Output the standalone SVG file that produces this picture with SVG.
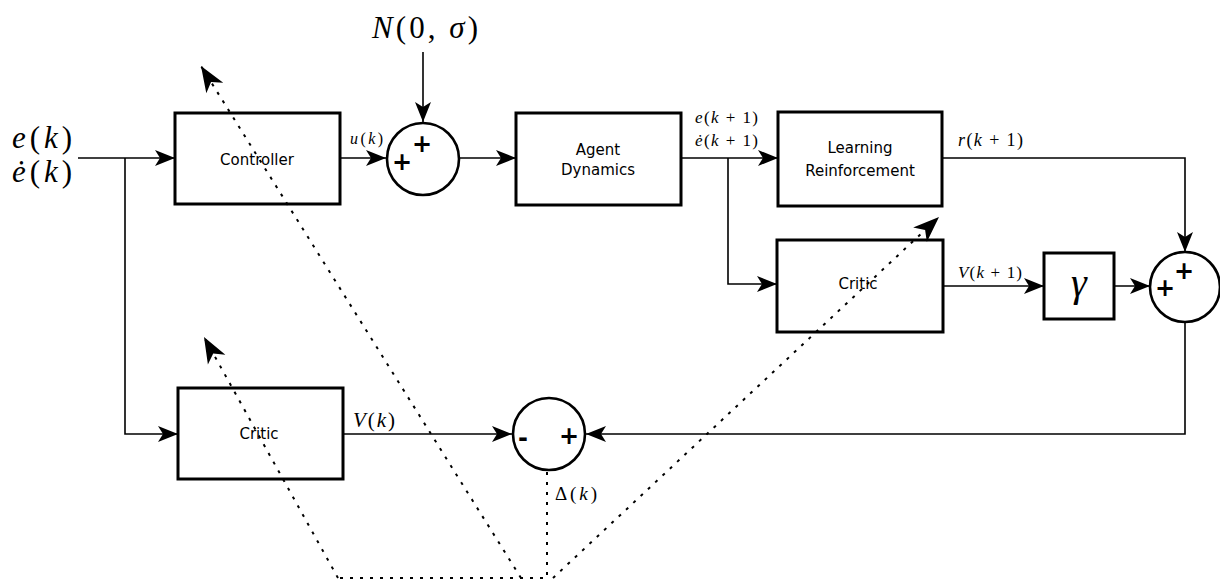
<svg xmlns="http://www.w3.org/2000/svg" width="1220" height="581" viewBox="0 0 1220 581">
  <style>
    .box { fill: #fff; stroke: #000; stroke-width: 3; }
    .sum { fill: #fff; stroke: #000; stroke-width: 2.6; }
    .wire { fill: none; stroke: #000; stroke-width: 1.6; }
    .dot { fill: none; stroke: #000; stroke-width: 2; stroke-dasharray: 3 7; }
    .lbl { font-family: "DejaVu Sans", "Liberation Sans", sans-serif; font-size: 15px; text-anchor: middle; fill: #000; }
    .math { font-family: "Liberation Serif", serif; font-weight: normal; fill: #000; }
    .it { font-style: italic; }
    .sign { font-family: "DejaVu Sans", "Liberation Sans", sans-serif; font-weight: bold; font-size: 24px; text-anchor: middle; fill: #000; }
  </style>
  <defs>
    <marker id="arrow" markerUnits="userSpaceOnUse" markerWidth="24" markerHeight="20" viewBox="-22 -10 24 20" refX="0" refY="0" orient="auto">
      <path d="M0,0 L-20,-8 L-15,0 L-20,8 Z" fill="#000"/>
    </marker>
    <marker id="arrow-big" markerUnits="userSpaceOnUse" markerWidth="30" markerHeight="24" viewBox="-28 -12 30 24" refX="0" refY="0" orient="auto">
      <path d="M0,0 L-26,-10 L-19,0 L-26,10 Z" fill="#000"/>
    </marker>
  </defs>

  <rect width="1220" height="581" fill="#fff"/>

  <g id="input-label">
    <text class="math" x="12" y="148" font-size="31" textLength="60" lengthAdjust="spacing"><tspan class="it">e</tspan>(<tspan class="it">k</tspan>)</text>
    <text class="math" x="12" y="182" font-size="31" textLength="60" lengthAdjust="spacing"><tspan class="it">ė</tspan>(<tspan class="it">k</tspan>)</text>
  </g>

  <g id="noise-label">
    <text class="math" x="372" y="38" font-size="31" textLength="106" lengthAdjust="spacing"><tspan class="it">N</tspan>(0, <tspan class="it">σ</tspan>)</text>
  </g>

  <g id="controller">
    <rect class="box" x="175" y="113" width="165" height="91"/>
    <text class="lbl" x="257" y="165">Controller</text>
  </g>

  <g id="sum-noise">
    <circle class="sum" cx="423" cy="159" r="36"/>
    <text class="sign" x="402" y="170">+</text>
    <text class="sign" x="422" y="152">+</text>
    <text class="math" x="350" y="144" font-size="16" textLength="33" lengthAdjust="spacing"><tspan class="it">u</tspan>(<tspan class="it">k</tspan>)</text>
  </g>

  <g id="agent-dynamics">
    <rect class="box" x="516" y="113" width="165" height="92"/>
    <text class="lbl" x="598" y="155">Agent</text>
    <text class="lbl" x="598" y="175">Dynamics</text>
    <text class="math" x="695" y="123" font-size="17" textLength="63" lengthAdjust="spacing"><tspan class="it">e</tspan>(<tspan class="it">k</tspan> + 1)</text>
    <text class="math" x="695" y="146" font-size="17" textLength="63" lengthAdjust="spacing"><tspan class="it">ė</tspan>(<tspan class="it">k</tspan> + 1)</text>
  </g>

  <g id="learning-reinforcement">
    <rect class="box" x="778" y="112" width="164" height="94"/>
    <text class="lbl" x="860" y="153">Learning</text>
    <text class="lbl" x="860" y="176">Reinforcement</text>
    <text class="math" x="958" y="146" font-size="18" textLength="65" lengthAdjust="spacing"><tspan class="it">r</tspan>(<tspan class="it">k</tspan> + 1)</text>
  </g>

  <g id="critic-next">
    <rect class="box" x="777" y="240" width="166" height="92"/>
    <text class="lbl" x="858" y="289">Critic</text>
    <text class="math" x="958" y="278" font-size="17" textLength="64" lengthAdjust="spacing"><tspan class="it">V</tspan>(<tspan class="it">k</tspan> + 1)</text>
  </g>

  <g id="discount">
    <rect class="box" x="1044" y="253" width="70" height="66"/>
    <text class="math it" x="1079" y="296" font-size="40" text-anchor="middle">γ</text>
  </g>

  <g id="sum-return">
    <circle class="sum" cx="1185" cy="287" r="35"/>
    <text class="sign" x="1165" y="296">+</text>
    <text class="sign" x="1184" y="279">+</text>
  </g>

  <g id="critic-now">
    <rect class="box" x="178" y="388" width="165" height="91"/>
    <text class="lbl" x="259" y="439">Critic</text>
    <text class="math" x="353" y="427" font-size="21" textLength="42" lengthAdjust="spacing"><tspan class="it">V</tspan>(<tspan class="it">k</tspan>)</text>
  </g>

  <g id="td-error">
    <circle class="sum" cx="549" cy="434" r="36"/>
    <text class="sign" x="523" y="446">-</text>
    <text class="sign" x="569" y="444">+</text>
    <text class="math" x="555" y="500" font-size="19" textLength="42" lengthAdjust="spacing">Δ(<tspan class="it">k</tspan>)</text>
  </g>

  <!-- signal wiring, drawn last so the dotted update paths cross over the blocks -->
  <g id="connectors">
    <path class="wire" d="M78,158 H175" marker-end="url(#arrow)"/>
    <path class="wire" d="M125,158 V434 H178" marker-end="url(#arrow)"/>
    <path class="wire" d="M340,158 H386" marker-end="url(#arrow)"/>
    <path class="wire" d="M423,52 V122" marker-end="url(#arrow)"/>
    <path class="wire" d="M459,158 H516" marker-end="url(#arrow)"/>
    <path class="wire" d="M681,158 H778" marker-end="url(#arrow)"/>
    <path class="wire" d="M728,158 V284 H777" marker-end="url(#arrow)"/>
    <path class="wire" d="M942,158 H1185 V252" marker-end="url(#arrow)"/>
    <path class="wire" d="M943,286 H1044" marker-end="url(#arrow)"/>
    <path class="wire" d="M1114,286 H1150" marker-end="url(#arrow)"/>
    <path class="wire" d="M1185,322 V434 H586" marker-end="url(#arrow)"/>
    <path class="wire" d="M343,434 H512" marker-end="url(#arrow)"/>

    <!-- temporal-difference error fan-out (dotted) -->
    <path class="dot" d="M547,472 V578 H336"/>
    <path class="dot" d="M521,578 L201,66" marker-end="url(#arrow-big)"/>
    <path class="dot" d="M338,578 L204,337" marker-end="url(#arrow-big)"/>
    <path class="dot" d="M553,578 L939,217" marker-end="url(#arrow-big)"/>
  </g>
</svg>
